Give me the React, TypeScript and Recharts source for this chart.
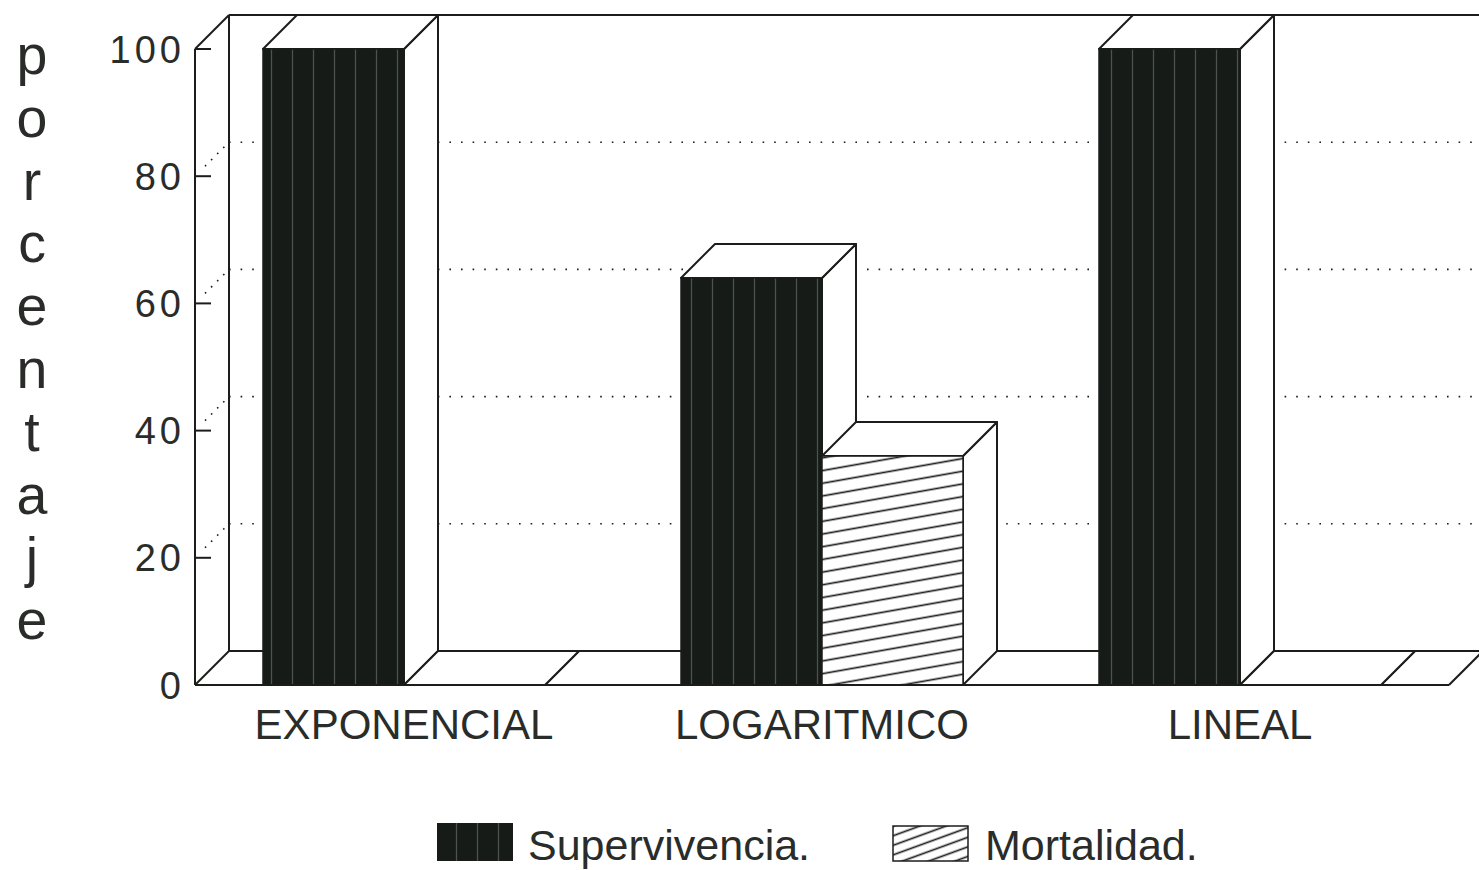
import React from 'react';
import { BarChart, Bar, XAxis, YAxis, CartesianGrid, Legend } from 'recharts';

// Percentages per growth model
const CATEGORIES = ['EXPONENCIAL', 'LOGARITMICO', 'LINEAL'];
const SUPERVIVENCIA = [100, 64, 100];
const MORTALIDAD = [0, 36, 0];
const Y_TICKS = [0, 20, 40, 60, 80, 100];
const AXIS_TITLE = 'porcentaje';
const SERIES_NAMES = ['Supervivencia.', 'Mortalidad.'];

const data = CATEGORIES.map((categoria, i) => ({
  categoria,
  supervivencia: SUPERVIVENCIA[i],
  mortalidad: MORTALIDAD[i],
}));

const DEPTH = 34; // oblique depth of the 3D box (px)
const INK = '#1b1d1b';
const TEXT = '#2a2c2a';
const FONT = '"Liberation Sans", Arial, Helvetica, sans-serif';

// Bar drawn as an oblique box: front face, top face and right side face
const Bar3D = (props: any) => {
  const { x, y, width, height, fill } = props;
  if (x == null || y == null || width == null || height == null) return null;
  const d = DEPTH;
  const top = y;
  const bottom = y + height;
  const right = x + width;
  return (
    <g>
      <polygon
        points={`${right},${top} ${right + d},${top - d} ${right + d},${bottom - d} ${right},${bottom}`}
        fill="#fff"
        stroke={INK}
        strokeWidth={2}
        strokeLinejoin="round"
      />
      <polygon
        points={`${x},${top} ${x + d},${top - d} ${right + d},${top - d} ${right},${top}`}
        fill="#fff"
        stroke={INK}
        strokeWidth={2}
        strokeLinejoin="round"
      />
      {height > 0 && (
        <rect x={x} y={top} width={width} height={height} fill={fill} stroke={INK} strokeWidth={1.5} />
      )}
    </g>
  );
};

// Back wall lines at every tick, plus the dotted connectors from the front axis
const renderHorizontal = (p: any) => {
  const { x1, x2, y1, index } = p;
  const d = DEPTH;
  const edge = index === 0 || index === Y_TICKS.length - 1;
  return (
    <g key={`h-${index}`}>
      <line
        x1={x1 + d}
        y1={y1 - d}
        x2={x2 + d}
        y2={y1 - d}
        stroke={INK}
        strokeWidth={edge ? 2 : 1.6}
        strokeDasharray={edge ? undefined : '1.6 10'}
      />
      {!edge && (
        <line
          x1={x1 + 10}
          y1={y1 - 10}
          x2={x1 + d}
          y2={y1 - d}
          stroke={INK}
          strokeWidth={1.6}
          strokeDasharray="1.6 7"
        />
      )}
    </g>
  );
};

// Side walls: left wall edges and the right end of the floor
const renderVertical = (p: any) => {
  const { x1, y1, y2, index } = p;
  const d = DEPTH;
  if (index === 0) {
    return (
      <g key={`v-${index}`}>
        <line x1={x1 + d} y1={y1 - d} x2={x1 + d} y2={y2 - d} stroke={INK} strokeWidth={2} />
        <line x1={x1} y1={y1} x2={x1 + d} y2={y1 - d} stroke={INK} strokeWidth={2} />
        <line x1={x1} y1={y2} x2={x1 + d} y2={y2 - d} stroke={INK} strokeWidth={2} />
      </g>
    );
  }
  return (
    <g key={`v-${index}`}>
      <line x1={x1} y1={y2} x2={x1 + d} y2={y2 - d} stroke={INK} strokeWidth={2} />
    </g>
  );
};

const YTick = (p: any) => {
  const { x, y, payload } = p;
  return (
    <g>
      <line x1={x} y1={y} x2={x + 16} y2={y} stroke={INK} strokeWidth={2} />
      <text
        x={x - 10}
        y={y}
        dy="0.36em"
        textAnchor="end"
        fontFamily={FONT}
        fontSize={38}
        letterSpacing={4}
        fill={TEXT}
      >
        {payload.value}
      </text>
    </g>
  );
};

const XTick = (p: any) => {
  const { x, y, payload } = p;
  return (
    <text x={x} y={y + 54} textAnchor="middle" fontFamily={FONT} fontSize={42} fill={TEXT}>
      {payload.value}
    </text>
  );
};

// Vertical title written as stacked letters, one per row
const AxisTitle = (p: any) => {
  const vb = p.viewBox || { x: 95, y: 49 };
  const cx = vb.x - 63;
  const letters = AXIS_TITLE.split('');
  return (
    <g>
      {letters.map((ch, i) => (
        <text
          key={i}
          x={cx}
          y={vb.y + 25 + i * 62.8}
          textAnchor="middle"
          fontFamily={FONT}
          fontSize={55.5}
          fill={TEXT}
        >
          {ch}
        </text>
      ))}
    </g>
  );
};

const DarkPattern = ({ id }: { id: string }) => (
  <pattern id={id} patternUnits="userSpaceOnUse" width={21} height={40}>
    <rect x={0} y={0} width={21} height={40} fill="#161b17" />
    <line x1={19.5} y1={0} x2={19.5} y2={40} stroke="#7a7f7a" strokeWidth={1.2} opacity={0.55} />
  </pattern>
);

const HatchPattern = ({ id, angle, gap }: { id: string; angle: number; gap: number }) => (
  <pattern id={id} patternUnits="userSpaceOnUse" width={12} height={gap} patternTransform={`rotate(${angle})`}>
    <rect x={0} y={0} width={12} height={gap} fill="#fff" />
    <line x1={0} y1={gap / 2} x2={12} y2={gap / 2} stroke={INK} strokeWidth={1.7} />
  </pattern>
);

const LegendContent = (p: any) => {
  const items: any[] = p.payload || [];
  const ordered = ['supervivencia', 'mortalidad']
    .map((k) => items.find((it) => it.dataKey === k))
    .filter(Boolean);
  const list = ordered.length ? ordered : items;
  return (
    <svg width={820} height={54} style={{ display: 'block', overflow: 'visible' }}>
      <defs>
        <DarkPattern id="lgDark" />
        <HatchPattern id="lgHatch" angle={-20} gap={9} />
      </defs>
      {list.map((it: any, i: number) => {
        const ox = i === 0 ? 0 : 456;
        const dark = it.dataKey === 'supervivencia';
        return (
          <g key={i}>
            {dark ? (
              <rect x={ox} y={8} width={76} height={38} fill="url(#lgDark)" />
            ) : (
              <rect x={ox} y={11} width={75} height={35} fill="url(#lgHatch)" stroke={INK} strokeWidth={1.5} />
            )}
            <text x={ox + (dark ? 91 : 92)} y={45} fontFamily={FONT} fontSize={43} fill={TEXT}>
              {it.value}
            </text>
          </g>
        );
      })}
    </svg>
  );
};

export default function App() {
  return (
    <div style={{ position: 'absolute', left: 0, top: 0, width: 1479, height: 870, background: '#fff' }}>
      <BarChart
        width={1479}
        height={870}
        data={data}
        margin={{ top: 49, right: 30, bottom: 125, left: 95 }}
        barCategoryGap={68}
        barGap={0}
      >
        <defs>
          <DarkPattern id="survFill" />
          <HatchPattern id="mortFill" angle={-10} gap={12.5} />
        </defs>
        <CartesianGrid
          horizontal={renderHorizontal}
          vertical={renderVertical}
          verticalCoordinatesGenerator={({ offset, width }: any) => [offset.left, width - offset.right]}
        />
        <XAxis
          dataKey="categoria"
          axisLine={{ stroke: INK, strokeWidth: 2 }}
          tickLine={false}
          tickSize={0}
          tickMargin={0}
          height={60}
          interval={0}
          tick={<XTick />}
        />
        <YAxis
          domain={[0, 100]}
          ticks={Y_TICKS}
          width={100}
          axisLine={{ stroke: INK, strokeWidth: 2 }}
          tickLine={false}
          tickSize={0}
          tickMargin={0}
          tick={<YTick />}
          label={<AxisTitle />}
        />
        <Legend
          layout="vertical"
          align="center"
          verticalAlign="middle"
          wrapperStyle={{ left: 437, top: 815, width: 820, height: 54 }}
          content={<LegendContent />}
        />
        <Bar
          dataKey="supervivencia"
          name={SERIES_NAMES[0]}
          fill="url(#survFill)"
          shape={<Bar3D />}
          isAnimationActive={false}
        />
        <Bar
          dataKey="mortalidad"
          name={SERIES_NAMES[1]}
          fill="url(#mortFill)"
          shape={<Bar3D />}
          isAnimationActive={false}
        />
      </BarChart>
    </div>
  );
}
